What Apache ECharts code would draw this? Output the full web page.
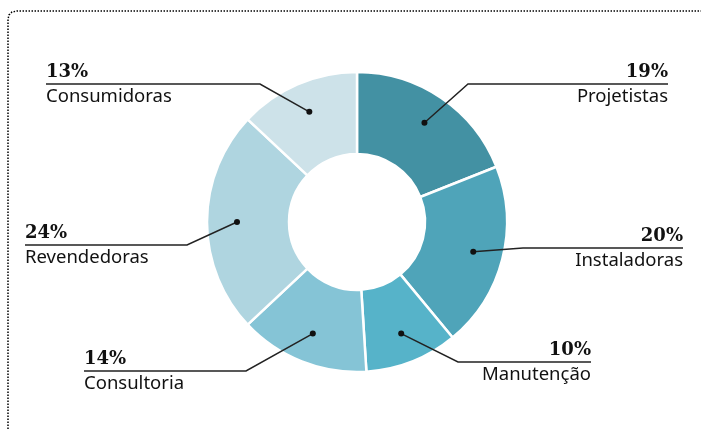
<!DOCTYPE html>
<html>
<head>
<meta charset="utf-8">
<script src="https://cdn.jsdelivr.net/npm/echarts@6/dist/echarts.min.js"></script>
<style>
  html, body { margin: 0; padding: 0; background: #fff; }
  #chart { width: 701px; height: 429px; }
</style>
</head>
<body>
<div id="chart"></div>
<script>
const categories = ["Projetistas", "Instaladoras", "Manutenção", "Consultoria", "Revendedoras", "Consumidoras"];
const shares = [19, 20, 10, 14, 24, 13];
const sliceColors = ["#4391a3", "#4fa4b9", "#56b3c9", "#85c4d6", "#afd5e0", "#cde2e9"];

// where each callout sits: side of the text, horizontal rule y, elbow x, rule end x
const callouts = [
  { side: "right", lineY: 84, elbow: 468, end: 668 },
  { side: "right", lineY: 248, elbow: 523, end: 683 },
  { side: "right", lineY: 362, elbow: 458, end: 591 },
  { side: "left", lineY: 371, elbow: 246, end: 84 },
  { side: "left", lineY: 245, elbow: 187, end: 25 },
  { side: "left", lineY: 84, elbow: 260, end: 46 },
];

const cx = 357, cy = 222;
const inner = 68, outer = 150, dotR = 120;

const total = shares.reduce((a, b) => a + b, 0);
function dotPoint(i) {
  let before = 0;
  for (let k = 0; k < i; k++) before += shares[k];
  const t = ((before + shares[i] / 2) / total) * Math.PI * 2;
  return [cx + dotR * Math.sin(t), cy - dotR * Math.cos(t)];
}

const chart = echarts.init(document.getElementById("chart"), null, { renderer: "canvas" });

chart.setOption({
  animation: false,
  graphic: [
    {
      type: "polyline",
      shape: { points: [[8, 429], [8, 19], [9, 15], [12, 12], [17, 11], [701, 11]] },
      style: { fill: null, stroke: "#000", lineWidth: 1.5, lineDash: [1.5, 1.5] },
      silent: true,
    },
  ],
  series: [
    {
      type: "pie",
      center: [cx, cy],
      radius: [inner, outer],
      startAngle: 90,
      clockwise: true,
      avoidLabelOverlap: false,
      emphasis: { disabled: true },
      itemStyle: { borderColor: "#fff", borderWidth: 2.5 },
      label: {
        show: true,
        position: "outer",
        formatter: (p) => "{p|" + p.value + "%}\n{n|" + p.name + "}",
        rich: {
          p: {
            fontFamily: "DejaVu Serif",
            fontWeight: "bold",
            fontSize: 18,
            color: "#111",
            lineHeight: 24,
          },
          n: {
            fontFamily: "Noto Sans",
            fontSize: 18.5,
            color: "#111",
            lineHeight: 26,
          },
        },
      },
      labelLine: { show: false },
      labelLayout: function (params) {
        const c = callouts[params.dataIndex];
        return {
          x: c.end,
          y: c.lineY - 24,
          align: c.side,
          verticalAlign: "top",
        };
      },
      data: categories.map((name, i) => ({
        name: name,
        value: shares[i],
        itemStyle: { color: sliceColors[i] },
      })),
    },
    // leader lines and dots, drawn over the slices
    {
      type: "custom",
      coordinateSystem: "none",
      silent: true,
      z: 5,
      data: shares.map((v, i) => [i, v]),
      renderItem: function (params, api) {
        const i = api.value(0);
        const d = dotPoint(i);
        const c = callouts[i];
        return {
          type: "group",
          children: [
            {
              type: "polyline",
              shape: { points: [d, [c.elbow, c.lineY], [c.end, c.lineY]] },
              style: { fill: null, stroke: "#222", lineWidth: 1.5 },
            },
            {
              type: "circle",
              shape: { cx: d[0], cy: d[1], r: 3 },
              style: { fill: "#111" },
            },
          ],
        };
      },
    },
  ],
});
</script>
</body>
</html>
